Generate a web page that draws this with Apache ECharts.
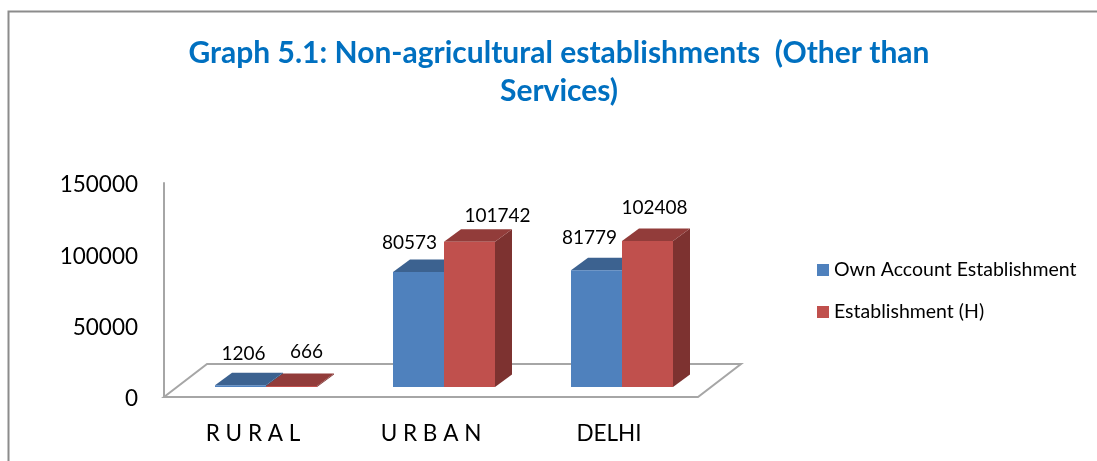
<!DOCTYPE html>
<html>
<head>
<meta charset="utf-8">
<style>
    html, body { margin: 0; padding: 0; background: #fff; }
    #chart { width: 1097px; height: 461px; }
</style>
<script src="https://cdn.jsdelivr.net/npm/echarts@6/dist/echarts.min.js"></script>
</head>
<body>
<div id="chart"></div>
<script>
    var categories = ['R U R A L', 'U R B A N', 'DELHI'];
    var ownAccount = [1206, 80573, 81779];
    var establishmentH = [666, 101742, 102408];
    var yTicks = [0, 50000, 100000, 150000];

    // fake 3D: how far bars sit off the axis plane, and the depth of each box
    var FONT = 'Lato, "Open Sans", sans-serif';
    var PLANE_DX = 13, PLANE_DY = -10;
    var DEPTH_DX = 17, DEPTH_DY = -12.5;
    var BAR_WIDTH = 51;

    // label nudges from the top middle of each bar, [series][category]
    var labelNudge = [
        [[3, -31], [-9, -29], [-7, -32]],
        [[15, -34], [28, -26], [7, -33]]
    ];

    var faces = [
        { front: '#4f81bd', top: '#3c6290', side: '#335479', name: 'Own Account Establishment' },
        { front: '#c0504d', top: '#923c3a', side: '#7d3230', name: 'Establishment (H)' }
    ];

    function poly(points, fill, z2) {
        return { type: 'polygon', z2: z2, shape: { points: points }, style: { fill: fill, stroke: null } };
    }

    function barRender(seriesIndex) {
        return function (params, api) {
            var cat = api.value(0);
            var base = api.coord([cat, 0]);
            var top = api.coord([cat, api.value(1)]);
            var face = faces[seriesIndex];
            var x0 = base[0] + PLANE_DX + (seriesIndex - 1) * BAR_WIDTH;
            var x1 = x0 + BAR_WIDTH;
            var y0 = base[1] + PLANE_DY;
            var y1 = top[1] + PLANE_DY;
            var nudge = labelNudge[seriesIndex][cat];
            return {
                type: 'group',
                children: [
                    poly([[x1, y1], [x1 + DEPTH_DX, y1 + DEPTH_DY], [x1 + DEPTH_DX, y0 + DEPTH_DY], [x1, y0]], face.side, 1),
                    poly([[x0, y1], [x0 + DEPTH_DX, y1 + DEPTH_DY], [x1 + DEPTH_DX, y1 + DEPTH_DY], [x1, y1]], face.top, 1),
                    poly([[x0, y1], [x1, y1], [x1, y0], [x0, y0]], face.front, 2),
                    {
                        type: 'text',
                        z2: 5,
                        style: {
                            x: (x0 + x1) / 2 + nudge[0],
                            y: y1 + nudge[1],
                            text: String(api.value(1)),
                            fill: '#000',
                            font: '19px ' + FONT,
                            align: 'center',
                            verticalAlign: 'middle'
                        }
                    }
                ]
            };
        };
    }

    function floorRender(params) {
        var g = params.coordSys;
        var left = g.x, right = g.x + g.width, bottom = g.y + g.height;
        var back = bottom - 33, shift = 43;
        return {
            type: 'polygon',
            shape: { points: [[left, bottom], [left + shift, back], [right + shift, back], [right, bottom]] },
            style: { fill: '#fff', stroke: '#a6a6a6', lineWidth: 2 }
        };
    }

    var option = {
        animation: false,
        backgroundColor: '#fff',
        textStyle: { fontFamily: FONT },
        title: {
            text: 'Graph 5.1: Non-agricultural establishments  (Other than\nServices)',
            left: 554,
            top: 29,
            textAlign: 'center',
            textStyle: { color: '#0070c0', fontSize: 30, fontWeight: 'bold', lineHeight: 38, fontFamily: FONT }
        },
        legend: {
            orient: 'vertical',
            left: 812,
            top: 255,
            itemWidth: 12,
            itemHeight: 12,
            itemGap: 22,
            icon: 'rect',
            data: [faces[0].name, faces[1].name],
            textStyle: { fontSize: 19.5, color: '#000', fontFamily: FONT, padding: [0, 0, 0, 0] }
        },
        grid: { left: 164, top: 183, width: 534, height: 214 },
        xAxis: {
            type: 'category',
            data: categories,
            axisLine: { show: false },
            axisTick: { show: false },
            axisLabel: { color: '#000', fontSize: 22.5, margin: 25, fontFamily: FONT }
        },
        yAxis: {
            type: 'value',
            min: 0,
            max: yTicks[yTicks.length - 1],
            interval: yTicks[1],
            splitLine: { show: false },
            axisTick: { show: false },
            axisLine: { show: true, lineStyle: { color: '#a6a6a6', width: 2 } },
            axisLabel: {
                color: '#000',
                fontSize: 22.5,
                margin: 26,
                lineHeight: 4,
                verticalAlign: 'top',
                fontFamily: FONT,
                formatter: function (v) { return String(v); }
            }
        },
        graphic: [{
            type: 'polyline',
            silent: true,
            shape: { points: [[8.5, 461], [8.5, 11.5], [1097, 11.5]] },
            style: { fill: null, stroke: '#8c8c8c', lineWidth: 2 }
        }],
        series: [
            { type: 'custom', silent: true, z: 1, renderItem: floorRender, data: [0] },
            {
                type: 'custom',
                name: faces[0].name,
                z: 3,
                itemStyle: { color: faces[0].front },
                renderItem: barRender(0),
                encode: { x: 0, y: 1 },
                data: ownAccount.map(function (v, i) { return [i, v]; })
            },
            {
                type: 'custom',
                name: faces[1].name,
                z: 4,
                itemStyle: { color: faces[1].front },
                renderItem: barRender(1),
                encode: { x: 0, y: 1 },
                data: establishmentH.map(function (v, i) { return [i, v]; })
            }
        ]
    };

    echarts.init(document.getElementById('chart')).setOption(option);
</script>
</body>
</html>
